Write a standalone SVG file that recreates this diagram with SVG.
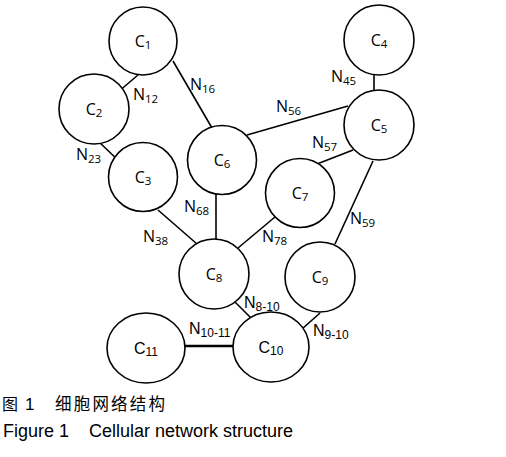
<svg xmlns="http://www.w3.org/2000/svg" width="506" height="457" viewBox="0 0 506 457">
<style>
.n{fill:#fff;stroke:#000;stroke-width:1.6}
.e line{stroke:#000;stroke-width:1.6}
.t{font-family:"Open Sans","Noto Sans","Liberation Sans",sans-serif;font-size:16px;fill:#000}
.s{font-size:11.5px}
.a{font-family:"Liberation Sans",Arial,sans-serif;font-size:16px;fill:#000}
.as{font-size:12px}
.cap{font-family:"Liberation Sans","Noto Sans CJK SC",sans-serif;fill:#000}
</style>
<rect width="506" height="457" fill="#fff"/>
<g class="e" id="connectors">
<line x1="138" y1="75" x2="118" y2="92"/>
<line x1="173" y1="61" x2="212" y2="128"/>
<line x1="99" y1="142" x2="119" y2="161"/>
<line x1="374" y1="74" x2="374" y2="91"/>
<line x1="247" y1="135" x2="348" y2="106"/>
<line x1="353" y1="150" x2="317" y2="164"/>
<line x1="373" y1="161" x2="335" y2="244"/>
<line x1="158" y1="210" x2="197" y2="244"/>
<line x1="216" y1="193" x2="216" y2="245"/>
<line x1="275" y1="217" x2="238" y2="248"/>
<line x1="235" y1="302" x2="253" y2="320"/>
<line x1="320" y1="313" x2="302" y2="329"/>
<line x1="185" y1="346" x2="233" y2="346" style="stroke-width:2.6"/>
</g>
<g id="labels">
<text class="t" x="133" y="100">N<tspan class="s" dy="3">12</tspan></text>
<text class="t" x="190" y="90">N<tspan class="s" dy="3">16</tspan></text>
<text class="t" x="76" y="160">N<tspan class="s" dy="3">23</tspan></text>
<text class="t" x="331" y="82">N<tspan class="s" dy="3">45</tspan></text>
<text class="t" x="276" y="112">N<tspan class="s" dy="3">56</tspan></text>
<text class="t" x="312" y="148">N<tspan class="s" dy="3">57</tspan></text>
<text class="t" x="350" y="224">N<tspan class="s" dy="3">59</tspan></text>
<text class="t" x="143" y="242">N<tspan class="s" dy="3">38</tspan></text>
<text class="t" x="184" y="212">N<tspan class="s" dy="3">68</tspan></text>
<text class="t" x="262" y="242">N<tspan class="s" dy="3">78</tspan></text>
<text class="a" x="244" y="308">N<tspan class="as" dy="3">8-10</tspan></text>
<text class="a" x="313" y="336">N<tspan class="as" dy="3">9-10</tspan></text>
<text class="a" x="189" y="334">N<tspan class="as" dy="3">10-11</tspan></text>
</g>
<g id="C1"><circle class="n" cx="143" cy="41" r="34"/><text class="t" x="143" y="47" text-anchor="middle">C<tspan class="s" dy="2">1</tspan></text></g>
<g id="C2"><circle class="n" cx="94" cy="109" r="35"/><text class="t" x="94" y="115" text-anchor="middle">C<tspan class="s" dy="2">2</tspan></text></g>
<g id="C3"><circle class="n" cx="143" cy="177" r="34.5"/><text class="t" x="143" y="183" text-anchor="middle">C<tspan class="s" dy="2">3</tspan></text></g>
<g id="C4"><circle class="n" cx="379" cy="40" r="35"/><text class="t" x="379" y="46" text-anchor="middle">C<tspan class="s" dy="2">4</tspan></text></g>
<g id="C5"><circle class="n" cx="379" cy="125" r="35"/><text class="t" x="379" y="131" text-anchor="middle">C<tspan class="s" dy="2">5</tspan></text></g>
<g id="C6"><circle class="n" cx="222" cy="160" r="34.5"/><text class="t" x="222" y="166" text-anchor="middle">C<tspan class="s" dy="2">6</tspan></text></g>
<g id="C7"><circle class="n" cx="300" cy="193" r="34.5"/><text class="t" x="300" y="199" text-anchor="middle">C<tspan class="s" dy="2">7</tspan></text></g>
<g id="C8"><circle class="n" cx="214" cy="274" r="35"/><text class="t" x="214" y="280" text-anchor="middle">C<tspan class="s" dy="2">8</tspan></text></g>
<g id="C9"><circle class="n" cx="320" cy="277" r="35"/><text class="t" x="320" y="283" text-anchor="middle">C<tspan class="s" dy="2">9</tspan></text></g>
<g id="C10"><ellipse class="n" cx="271" cy="347" rx="38" ry="35"/><text class="a" x="271" y="353" text-anchor="middle">C<tspan class="as" dy="2">10</tspan></text></g>
<g id="C11"><ellipse class="n" cx="146" cy="348" rx="39" ry="35"/><text class="a" x="146" y="354" text-anchor="middle">C<tspan class="as" dy="2">11</tspan></text></g>
<g id="caption">
<text class="cap" x="2" y="410" font-size="16">图</text>
<text class="cap" x="25" y="410" font-size="17">1</text>
<text class="cap" x="55" y="410" font-size="16.5" textLength="110" lengthAdjust="spacing">细胞网络结构</text>
<text class="cap" x="3" y="437" font-size="18">Figure 1</text>
<text class="cap" x="89" y="437" font-size="18">Cellular network structure</text>
</g>
</svg>
